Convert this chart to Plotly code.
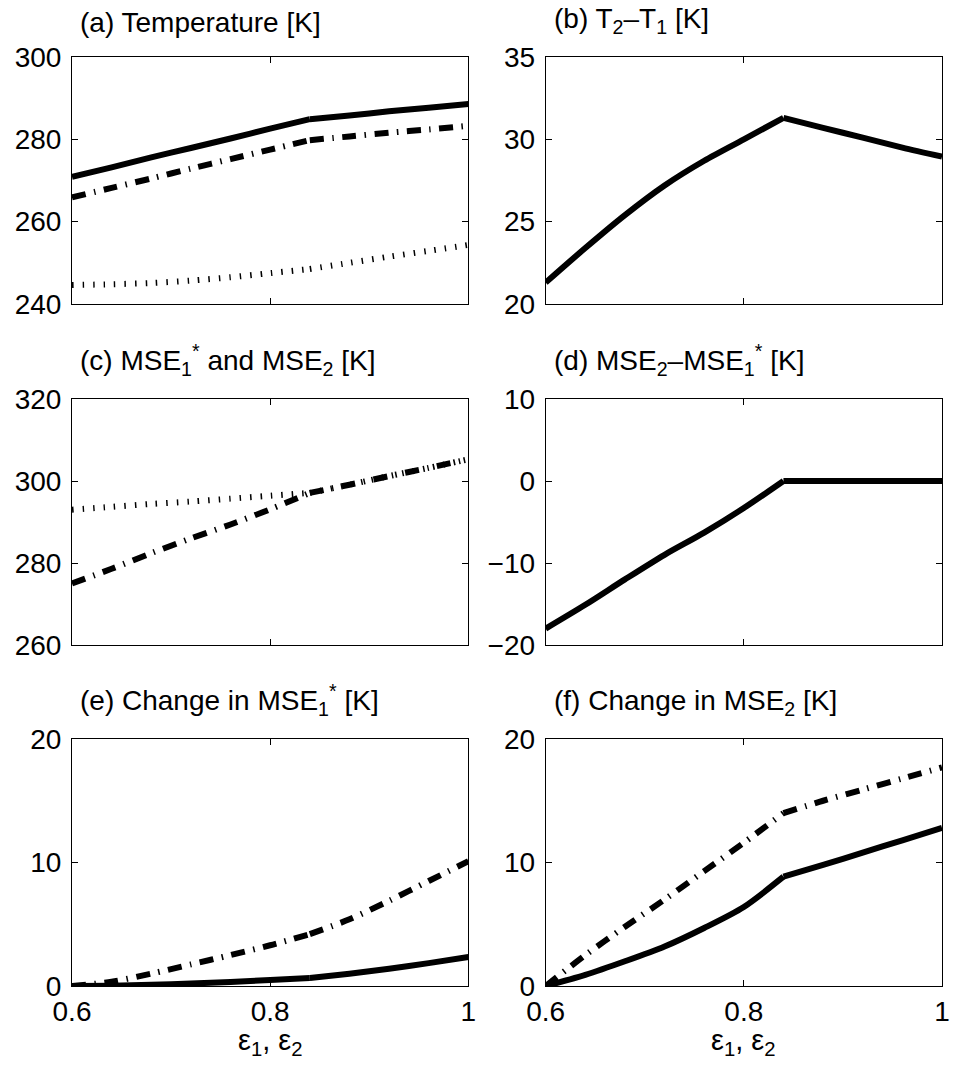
import plotly.graph_objects as go

# Shared abscissa: emissivities eps1 = eps2
eps = [0.60, 0.64, 0.68, 0.72, 0.76, 0.80, 0.84, 0.88, 0.92, 0.96, 1.00]
KINK = 6  # index of eps = 0.84, where the regime changes

# (a) Temperatures [K]
t_surf = [270.9, 273.2, 275.6, 277.9, 280.2, 282.6, 284.9, 285.8, 286.8, 287.7, 288.6]
t_2 = [265.9, 268.2, 270.5, 272.9, 275.2, 277.5, 279.8, 280.7, 281.6, 282.4, 283.3]
t_1 = [244.6, 244.8, 245.1, 245.7, 246.5, 247.5, 248.5, 250.0, 251.5, 252.9, 254.35]

# (b) T2 - T1 [K]
t_diff = [21.3, 23.4, 25.4, 27.2, 28.7, 30.0, 31.3, 30.7, 30.1, 29.5, 28.95]

# (c) MSE1* and MSE2 [K]
mse1_star = [293.0, 293.7, 294.4, 295.0, 295.7, 296.4, 297.1, 299.1, 301.2, 303.2, 305.3]
mse2 = [275.0, 278.6, 282.4, 286.0, 289.4, 293.1, 297.1, 299.1, 301.2, 303.2, 305.3]

# (d) MSE2 - MSE1* [K]
mse_diff = [-18.0, -15.1, -12.0, -9.0, -6.3, -3.3, 0.0, 0.0, 0.0, 0.0, 0.0]

# (e) Change in MSE1* [K]
d_mse1_solid = [0.0, 0.03, 0.1, 0.2, 0.33, 0.48, 0.65, 1.0, 1.4, 1.85, 2.35]
d_mse1_dashdot = [0.0, 0.35, 1.0, 1.75, 2.5, 3.3, 4.2, 5.4, 6.9, 8.5, 10.1]

# (f) Change in MSE2 [K]
d_mse2_solid = [0.0, 0.9, 2.0, 3.2, 4.7, 6.4, 8.85, 9.8, 10.8, 11.8, 12.8]
d_mse2_dashdot = [0.0, 2.5, 4.8, 7.0, 9.3, 11.6, 14.0, 15.0, 15.9, 16.8, 17.7]

x_ticks = [0.6, 0.8, 1.0]
x_ticklabels = ["0.6", "0.8", "1"]
y_ticks = {
    1: [240, 260, 280, 300],
    2: [20, 25, 30, 35],
    3: [260, 280, 300, 320],
    4: [-20, -10, 0, 10],
    5: [0, 10, 20],
    6: [0, 10, 20],
}

titles = {
    1: "(a) Temperature [K]",
    2: "(b) T<sub>2</sub>\u2013T<sub>1</sub> [K]",
    3: "(c) MSE<sub>1</sub><sup>*</sup> and MSE<sub>2</sub> [K]",
    4: "(d) MSE<sub>2</sub>\u2013MSE<sub>1</sub><sup>*</sup> [K]",
    5: "(e) Change in MSE<sub>1</sub><sup>*</sup> [K]",
    6: "(f) Change in MSE<sub>2</sub> [K]",
}
x_label = "\u03b5<sub>1</sub>, \u03b5<sub>2</sub>"

FONT = "Liberation Sans, Arial, Helvetica, sans-serif"
W, H = 953, 1067
ML, MR, MT, MB = 72, 3, 57, 81
PW, PH = W - ML - MR, H - MT - MB

# pixel boxes of each panel: (left, right) and (top, bottom)
cols = [(72, 472), (550, 950)]
rows = [(57, 304), (399, 645), (739, 986)]

SOLID = dict(color="black", width=6)
DASHDOT = dict(color="black", width=6, dash="14px,8.5px,1.5px,8.5px")
DOTTED = dict(color="black", width=6, dash="1.5px,9px")

series = {
    1: [(t_surf, SOLID), (t_2, DASHDOT), (t_1, DOTTED)],
    2: [(t_diff, SOLID)],
    3: [(mse1_star, DOTTED), (mse2, DASHDOT)],
    4: [(mse_diff, SOLID)],
    5: [(d_mse1_solid, SOLID), (d_mse1_dashdot, DASHDOT)],
    6: [(d_mse2_solid, SOLID), (d_mse2_dashdot, DASHDOT)],
}

fig = go.Figure()
layout = dict(
    width=W, height=H,
    margin=dict(l=ML, r=MR, t=MT, b=MB, pad=0),
    paper_bgcolor="white", plot_bgcolor="white",
    showlegend=False,
    font=dict(family=FONT, size=28, color="black"),
)

annotations = []
for k in range(1, 7):
    r, c = (k - 1) // 2, (k - 1) % 2
    x0, x1 = cols[c]
    y0, y1 = rows[r]
    xd = [(x0 - ML) / PW, (x1 - ML) / PW]
    yd = [(H - MB - y1) / PH, (H - MB - y0) / PH]
    sfx = "" if k == 1 else str(k)
    for ys, line in series[k]:
        # smooth curve on each side of the regime change, sharp corner at the kink
        for sl in (slice(0, KINK + 1), slice(KINK, None)):
            fig.add_trace(go.Scatter(x=eps[sl], y=ys[sl], mode="lines",
                                     line=dict(line, shape="spline", smoothing=0.8),
                                     xaxis="x" + sfx, yaxis="y" + sfx,
                                     hoverinfo="skip"))
    yt = y_ticks[k]
    layout["xaxis" + sfx] = dict(
        domain=xd, anchor="y" + sfx, range=[0.6, 1.0],
        tickvals=x_ticks, ticktext=x_ticklabels, showticklabels=(r == 2),
        ticks="inside", ticklen=6, tickwidth=1, tickcolor="black",
        showline=True, linecolor="black", linewidth=1, mirror="ticks",
        showgrid=False, zeroline=False,
        tickfont=dict(family=FONT, size=28, color="black"),
    )
    layout["yaxis" + sfx] = dict(
        domain=yd, anchor="x" + sfx, range=[yt[0], yt[-1]],
        tickvals=yt, ticks="inside", ticklen=6, tickwidth=1, tickcolor="black",
        showline=True, linecolor="black", linewidth=1, mirror="ticks",
        showgrid=False, zeroline=False, ticklabelstandoff=4,
        tickfont=dict(family=FONT, size=28, color="black"),
    )
    annotations.append(dict(
        text=titles[k], xref="paper", yref="paper",
        x=((78 if c == 0 else 556) - ML) / PW, y=yd[1],
        xanchor="left", yanchor="bottom", yshift=17,
        showarrow=False, font=dict(family=FONT, size=28, color="black"),
    ))
    if r == 2:
        annotations.append(dict(
            text=x_label, xref="paper", yref="paper",
            x=((x0 + x1) / 2 - ML) / PW, y=0,
            xanchor="center", yanchor="top", yshift=-36,
            showarrow=False, font=dict(family=FONT, size=29, color="black"),
        ))

layout["annotations"] = annotations
fig.update_layout(**layout)
fig.write_html("out.html")
